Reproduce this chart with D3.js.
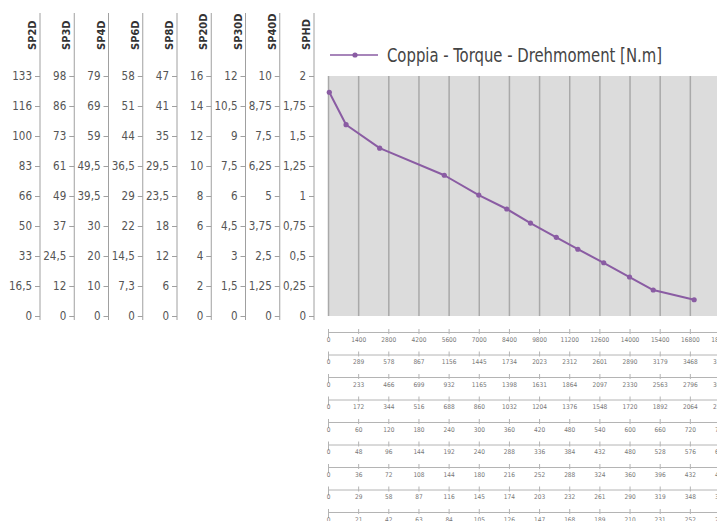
<!DOCTYPE html>
<html>
<head>
<meta charset="utf-8">
<script src="https://cdn.jsdelivr.net/npm/d3@7"></script>
<style>
  body { margin: 0; background: #fff; }
  svg { display: block; }
  text { font-family: "Liberation Sans Narrow", "DejaVu Sans Condensed", sans-serif; }
  .axis--left path, .axis--left line { stroke: #a0a0a0; }
  .axis--left text { fill: #555; font-size: 11.5px; }
  .axis--row path, .axis--row line { stroke: #b4b4b4; }
  .axis--row text { fill: #777; font-size: 6.5px; }
  .titles { fill: #333; font-size: 11px; font-weight: bold; }
</style>
</head>
<body>
<div id="chart"></div>
<script>

// motor names, one left axis and one bottom row each
var motors = ["SP2D", "SP3D", "SP4D", "SP6D", "SP8D", "SP20D", "SP30D", "SP40D", "SPHD"];

// left tick labels (torque), bottom to top
var torqueTicks = [
  ["0", "16,5", "33", "50", "66", "83", "100", "116", "133"],
  ["0", "12", "24,5", "37", "49", "61", "73", "86", "98"],
  ["0", "10", "20", "30", "39,5", "49,5", "59", "69", "79"],
  ["0", "7,3", "14,5", "22", "29", "36,5", "44", "51", "58"],
  ["0", "6", "12", "18", "23,5", "29,5", "35", "41", "47"],
  ["0", "2", "4", "6", "8", "10", "12", "14", "16"],
  ["0", "1,5", "3", "4,5", "6", "7,5", "9", "10,5", "12"],
  ["0", "1,25", "2,5", "3,75", "5", "6,25", "7,5", "8,75", "10"],
  ["0", "0,25", "0,5", "0,75", "1", "1,25", "1,5", "1,75", "2"]
];

// bottom tick labels (speed), left to right
var speedTicks = [
  ["0", "1400", "2800", "4200", "5600", "7000", "8400", "9800", "11200", "12600", "14000", "15400", "16800", "18200"],
  ["0", "289", "578", "867", "1156", "1445", "1734", "2023", "2312", "2601", "2890", "3179", "3468", "3757"],
  ["0", "233", "466", "699", "932", "1165", "1398", "1631", "1864", "2097", "2330", "2563", "2796", "3029"],
  ["0", "172", "344", "516", "688", "860", "1032", "1204", "1376", "1548", "1720", "1892", "2064", "2236"],
  ["0", "60", "120", "180", "240", "300", "360", "420", "480", "540", "600", "660", "720", "780"],
  ["0", "48", "96", "144", "192", "240", "288", "336", "384", "432", "480", "528", "576", "624"],
  ["0", "36", "72", "108", "144", "180", "216", "252", "288", "324", "360", "396", "432", "468"],
  ["0", "29", "58", "87", "116", "145", "174", "203", "232", "261", "290", "319", "348", "377"],
  ["0", "21", "42", "63", "84", "105", "126", "147", "168", "189", "210", "231", "252", "273"]
];

// torque curve, read in SP2D units (speed, N.m)
var speed  = [60, 840, 2400, 5400, 7000, 8300, 9400, 10600, 11600, 12800, 14000, 15100, 17000];
var torque = [124, 106, 93, 78, 67, 59.3, 51.5, 43.6, 37, 29.5, 21.6, 14.4, 9];

var legendLabel = "Coppia - Torque - Drehmoment [N.m]";


var width = 717, height = 521;
var purple = "#8a5ca3";

var svg = d3.select("#chart").append("svg")
    .attr("width", width)
    .attr("height", height);

var plot = {left: 328, right: 720, top: 76, bottom: 316};

// all torque axes share the same spacing, one label set per motor
var yIndex = d3.scaleLinear()
    .domain([0, 8])
    .range([plot.bottom, plot.top]);

var xIndex = d3.scaleLinear()
    .domain([0, 13])
    .range([plot.left, plot.right]);

var x = d3.scaleLinear()
    .domain([0, +speedTicks[0][13]])
    .range([plot.left, plot.right]);

var y = d3.scaleLinear()
    .domain([0, +torqueTicks[0][8]])
    .range([plot.bottom, plot.top]);

var colX = d3.scalePoint()
    .domain(motors)
    .range([40, 314]);

var rowY = d3.scalePoint()
    .domain(motors)
    .range([332, 512]);


// plot background + vertical grid
svg.append("rect")
    .attr("x", plot.left)
    .attr("y", plot.top)
    .attr("width", width - plot.left + 20)
    .attr("height", plot.bottom - plot.top)
    .attr("fill", "#dcdcdc");

svg.append("g")
  .selectAll("line")
  .data(speedTicks[0])
  .enter().append("line")
    .attr("x1", function(d) { return x(+d) + 0.5; })
    .attr("x2", function(d) { return x(+d) + 0.5; })
    .attr("y1", plot.top)
    .attr("y2", plot.bottom)
    .attr("stroke", "#a9a9a9")
    .attr("stroke-width", 1.5);


// left torque axes
motors.forEach(function(m, i) {
  var g = svg.append("g")
      .attr("class", "axis axis--left")
      .attr("transform", "translate(" + colX(m) + ",0)")
      .call(d3.axisLeft(yIndex)
        .tickValues(d3.range(9))
        .tickSize(5)
        .tickSizeOuter(0)
        .tickPadding(3)
        .tickFormat(function(d) { return torqueTicks[i][d]; }));

  g.select(".domain").remove();
  g.append("line")
      .attr("y1", 13)
      .attr("y2", 320)
      .attr("stroke", "#a0a0a0");

  svg.append("text")
      .text(m)
      .attr("class", "titles")
      .attr("text-anchor", "start")
      .attr("transform", "translate(" + (colX(m) - 4) + ",50)rotate(-90)");
});


// bottom speed axes
motors.forEach(function(m, i) {
  var g = svg.append("g")
      .attr("class", "axis axis--row")
      .attr("transform", "translate(0," + rowY(m) + ")")
      .call(d3.axisBottom(xIndex)
        .tickValues(d3.range(14))
        .tickSizeInner(3)
        .tickSizeOuter(6)
        .tickPadding(2)
        .tickFormat(function(d) { return speedTicks[i][d]; }));

  g.selectAll(".tick line").attr("y1", -3).attr("y2", 2);
  g.select(".domain").attr("d", "M" + (plot.left + 0.5) + ",6V0.5H" + (width + 20));
});


// torque curve
var pts = speed.map(function(s, i) { return {s: s, t: torque[i]}; });

var line = d3.line()
    .x(function(d) { return x(d.s); })
    .y(function(d) { return y(d.t); });

svg.append("path")
    .datum(pts)
    .attr("fill", "none")
    .attr("stroke", purple)
    .attr("stroke-width", 2)
    .attr("stroke-linejoin", "round")
    .attr("d", line);

svg.append("g")
  .selectAll("circle")
  .data(pts)
  .enter().append("circle")
    .attr("cx", function(d) { return x(d.s); })
    .attr("cy", function(d) { return y(d.t); })
    .attr("r", 2.6)
    .attr("fill", purple);


// legend
var legend = svg.append("g").attr("transform", "translate(330,55)");

legend.append("line")
    .attr("x1", 0)
    .attr("x2", 48)
    .attr("stroke", purple)
    .attr("stroke-width", 1.5);

legend.append("circle")
    .attr("cx", 25)
    .attr("r", 2.6)
    .attr("fill", purple);

legend.append("text")
    .text(legendLabel)
    .attr("x", 57)
    .attr("y", 7)
    .attr("fill", "#444")
    .attr("textLength", 275)
    .attr("lengthAdjust", "spacingAndGlyphs")
    .style("font-size", "19px");

</script>
</body>
</html>
